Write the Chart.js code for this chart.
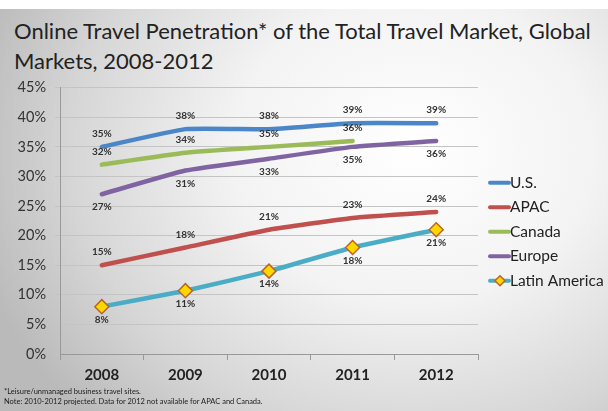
<!DOCTYPE html>
<html lang="en">
  <head>
    <meta charset="UTF-8" />
    <title>Online Travel Penetration</title>
    <script src="https://cdn.jsdelivr.net/npm/chart.js@4.4.0/dist/chart.umd.min.js"></script>
    <style>
      html, body {
        margin: 0;
        padding: 0;
      }
      body {
        width: 608px;
        height: 411px;
        overflow: hidden;
        position: relative;
        font-family: Lato, "Noto Sans", sans-serif;
        background: #fff;
      }
      .slide {
        position: absolute;
        left: 0;
        top: 9px;
        width: 608px;
        height: 402px;
        background: radial-gradient(ellipse 75% 95% at 68% 35%, #ffffff 0%, #f3f3f3 40%, #d6d6d6 75%, #bababa 100%);
      }
      .title {
        position: absolute;
        left: 14px;
        top: 16px;
        font-size: 22px;
        line-height: 30px;
        color: #222;
        white-space: nowrap;
      }
      .chart-box {
        position: absolute;
        left: 0;
        top: 70px;
        width: 608px;
        height: 320px;
      }
      .notes {
        position: absolute;
        left: 4px;
        top: 387px;
        font-size: 7.5px;
        line-height: 9.5px;
        color: #222;
      }
    </style>
  </head>
  <body>
    <div class="slide"></div>
    <div class="title">Online Travel Penetration* of the Total Travel Market, Global<br />Markets, 2008-2012</div>
    <div class="chart-box"><canvas id="chart"></canvas></div>
    <div class="notes">
      *Leisure/unmanaged business travel sites.<br />
      Note: 2010-2012 projected. Data for 2012 not available for APAC and Canada.
    </div>

    <script>
      const years = ["2008", "2009", "2010", "2011", "2012"];
      const usData = [35, 38, 38, 39, 39];
      const apacData = [15, 18, 21, 23, 24];
      const canadaData = [32, 34, 35, 36, null];
      const europeData = [27, 31, 33, 35, 36];
      const latamData = [8, 10.7, 14, 18, 21];
      const yTicks = [0, 5, 10, 15, 20, 25, 30, 35, 40, 45];

      // which side of the point the value label sits on
      const labelSide = { "U.S.": -1, APAC: -1, Canada: -1, Europe: 1, "Latin America": 1 };

      const valueLabels = {
        id: "valueLabels",
        afterDatasetsDraw(chart) {
          const ctx = chart.ctx;
          ctx.save();
          ctx.font = "bold 10px Lato, 'Liberation Sans', sans-serif";
          ctx.fillStyle = "#333";
          ctx.textAlign = "center";
          ctx.textBaseline = "middle";
          chart.data.datasets.forEach((ds, i) => {
            const meta = chart.getDatasetMeta(i);
            const side = labelSide[ds.label];
            meta.data.forEach((pt, j) => {
              const v = ds.data[j];
              if (v === null) return;
              ctx.fillText(Math.round(v) + "%", pt.x, pt.y + side * 13);
            });
          });
          ctx.restore();
        },
      };

      const sideLegend = {
        id: "sideLegend",
        afterDraw(chart) {
          const ctx = chart.ctx;
          const x0 = chart.chartArea.right + 12;
          let y = chart.chartArea.top + 95;
          ctx.save();
          ctx.font = "15.5px Lato, 'Noto Sans', sans-serif";
          ctx.textBaseline = "middle";
          chart.data.datasets.forEach((ds) => {
            ctx.strokeStyle = ds.borderColor;
            ctx.lineWidth = 4;
            ctx.lineCap = "round";
            ctx.beginPath();
            ctx.moveTo(x0, y);
            ctx.lineTo(x0 + 19, y);
            ctx.stroke();
            if (ds.pointStyle === "rectRot") {
              const cx = x0 + 10;
              ctx.fillStyle = ds.pointBackgroundColor;
              ctx.strokeStyle = ds.pointBorderColor;
              ctx.lineWidth = 1.5;
              ctx.beginPath();
              ctx.moveTo(cx, y - 5);
              ctx.lineTo(cx + 5, y);
              ctx.lineTo(cx, y + 5);
              ctx.lineTo(cx - 5, y);
              ctx.closePath();
              ctx.fill();
              ctx.stroke();
            }
            ctx.fillStyle = "#222";
            ctx.fillText(ds.label, x0 + 20, y);
            y += 24.5;
          });
          ctx.restore();
        },
      };

      const ctx = document.getElementById("chart").getContext("2d");
      const myChart = new Chart(ctx, {
        type: "line",
        data: {
          labels: years,
          datasets: [
            { label: "U.S.", data: usData, borderColor: "#4a86c8" },
            { label: "APAC", data: apacData, borderColor: "#c0504d" },
            { label: "Canada", data: canadaData, borderColor: "#9bbb59" },
            { label: "Europe", data: europeData, borderColor: "#8064a2" },
            {
              label: "Latin America",
              data: latamData,
              borderColor: "#4bacc6",
              pointStyle: "rectRot",
              pointRadius: 7,
              pointBackgroundColor: "#ffd700",
              pointBorderColor: "#b5652a",
              pointBorderWidth: 1.5,
            },
          ],
        },
        options: {
          responsive: true,
          maintainAspectRatio: false,
          animation: false,
          layout: { padding: { top: 0, right: 130, left: 0, bottom: 0 } },
          elements: {
            line: { borderWidth: 4.5, tension: 0.12, borderCapStyle: "round" },
            point: { radius: 0 },
          },
          plugins: {
            legend: { display: false },
            tooltip: { enabled: false },
          },
          scales: {
            x: {
              offset: true,
              afterFit(scale) {
                scale.height = 36;
              },
              grid: {
                offset: true,
                drawOnChartArea: false,
                color: "#999",
                tickLength: 6,
              },
              border: { color: "#999" },
              ticks: {
                padding: 6,
                color: "#222",
                font: { family: "Lato, 'Noto Sans', sans-serif", size: 15, weight: "bold" },
              },
            },
            y: {
              min: 0,
              max: 45,
              afterFit(scale) {
                scale.width = 60;
              },
              afterBuildTicks(scale) {
                scale.ticks = yTicks.map((v) => ({ value: v }));
              },
              grid: { color: "#c4c4c4", tickLength: 5, drawTicks: true },
              border: { color: "#999" },
              ticks: {
                padding: 9,
                color: "#333",
                font: { family: "Lato, 'Noto Sans', sans-serif", size: 14.5 },
                callback: (v) => v + "%",
              },
            },
          },
        },
        plugins: [valueLabels, sideLegend],
      });
    </script>
  </body>
</html>
